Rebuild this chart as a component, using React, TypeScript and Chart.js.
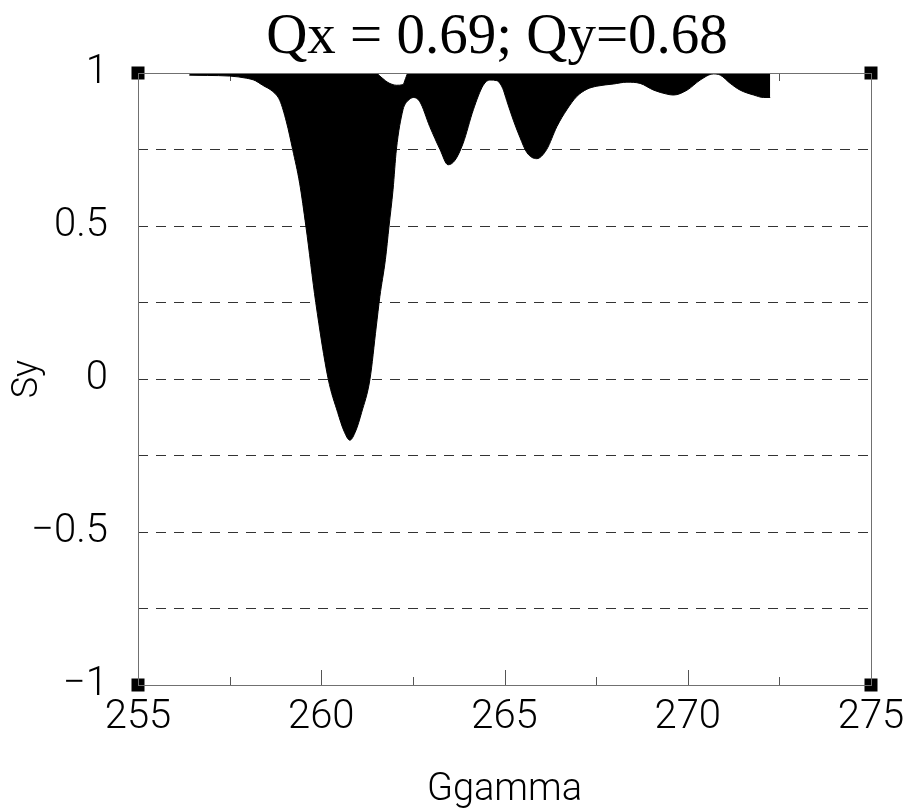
import React, { useEffect, useRef } from "react";
import { Chart, registerables } from "chart.js";

Chart.register(...registerables);

const TITLE = "Qx = 0.69; Qy=0.68";
const X_LABEL = "Ggamma";
const Y_LABEL = "Sy";

const X_MIN = 255;
const X_MAX = 275;
const X_STEP = 5;
const Y_MIN = -1;
const Y_MAX = 1;
const Y_STEP = 0.25;
const Y_LABELLED = [1, 0.5, 0, -0.5, -1];

const ggamma = [
  256.4, 256.9, 257.5, 257.96, 258.2, 258.4, 258.67, 258.87, 259.05, 259.22,
  259.41, 259.58, 259.85, 260.19, 260.45, 260.62, 260.78, 260.94, 261.1, 261.33,
  261.5, 261.6, 261.75, 261.85, 261.96, 262.05, 262.23, 262.3, 262.37, 262.51, 262.69,
  262.96, 263.24, 263.46, 263.65, 263.87, 264.15, 264.42, 264.6, 264.79, 264.95,
  265.06, 265.24, 265.42, 265.61, 265.88, 266.15, 266.43, 266.7, 266.97, 267.25,
  267.52, 267.97, 268.34, 268.7, 269.07, 269.43, 269.61, 269.98, 270.34, 270.7,
  270.89, 271.16, 271.43, 271.8, 272.07, 272.25,
];

const syLower = [
  0.993, 0.992, 0.99, 0.983, 0.975, 0.96, 0.94, 0.91, 0.84, 0.75,
  0.64, 0.5, 0.25, 0.0, -0.11, -0.17, -0.2, -0.17, -0.11, 0.0,
  0.17, 0.27, 0.39, 0.5, 0.62, 0.75, 0.88, 0.9, 0.91, 0.92, 0.906,
  0.825, 0.75, 0.7, 0.715, 0.77, 0.88, 0.96, 0.977, 0.975, 0.95,
  0.91, 0.846, 0.79, 0.74, 0.72, 0.75, 0.825, 0.88, 0.923, 0.947,
  0.957, 0.964, 0.97, 0.966, 0.944, 0.931, 0.928, 0.944, 0.977, 0.997,
  0.993, 0.966, 0.944, 0.928, 0.92, 0.92,
];

const syUpper = [
  1, 1, 1, 1, 1, 1, 1, 1, 1, 1,
  1, 1, 1, 1, 1, 1, 1, 1, 1, 1,
  1, 0.99, 0.975, 0.967, 0.962, 0.96, 0.962, 0.982, 1, 1, 1,
  1, 1, 1, 1, 1, 1, 1, 1, 1, 1,
  1, 1, 1, 1, 1, 1, 1, 1, 1, 1,
  1, 1, 1, 1, 1, 1, 1, 1, 1, 1,
  1, 1, 1, 1, 1, 1,
];

const cornerX = [X_MIN, X_MAX, X_MIN, X_MAX];
const cornerY = [Y_MAX, Y_MAX, Y_MIN, Y_MIN];

const SANS = "Roboto, 'DejaVu Sans', sans-serif";
const TICK_FONT = { family: SANS, size: 40, weight: "300" as any };

const plotTitle = {
  id: "plotTitle",
  afterDraw(chart: any) {
    const ctx = chart.ctx;
    ctx.save();
    ctx.fillStyle = "#000";
    ctx.font = "57px 'Liberation Serif', 'Times New Roman', serif";
    ctx.textAlign = "center";
    ctx.textBaseline = "alphabetic";
    ctx.fillText(TITLE, 497, 53);
    ctx.restore();
  },
};

const inwardTicks = {
  id: "inwardTicks",
  beforeDatasetsDraw(chart: any) {
    const xs = chart.scales.x;
    const { top, bottom } = chart.chartArea;
    const ctx = chart.ctx;
    const vals = xs.ticks.map((t: any) => t.value);
    ctx.save();
    ctx.strokeStyle = "#555";
    ctx.lineWidth = 1;
    const b = Math.round(bottom);
    const t = Math.round(top);
    const draw = (v: number, len: number) => {
      const px = Math.round(xs.getPixelForValue(v)) + 0.5;
      ctx.beginPath();
      ctx.moveTo(px, b);
      ctx.lineTo(px, b - len);
      ctx.moveTo(px, t);
      ctx.lineTo(px, t + len);
      ctx.stroke();
    };
    for (let i = 0; i < vals.length; i++) {
      if (i > 0 && i < vals.length - 1) draw(vals[i], 15);
      if (i > 0) draw((vals[i - 1] + vals[i]) / 2, 8);
    }
    ctx.restore();
  },
};

const frameBox = {
  id: "frameBox",
  afterDatasetsDraw(chart: any) {
    const { left, top, right, bottom } = chart.chartArea;
    const ctx = chart.ctx;
    ctx.save();
    ctx.strokeStyle = "#707070";
    ctx.lineWidth = 1;
    const l = Math.round(left) + 0.5;
    const t = Math.round(top) + 0.5;
    ctx.strokeRect(l, t, Math.round(right) - Math.round(left), Math.round(bottom) - Math.round(top));
    ctx.restore();
  },
};

function fmtY(v: number): string {
  if (!Y_LABELLED.some((l) => Math.abs(l - v) < 1e-9)) return "";
  const s = String(Math.abs(v));
  return v < 0 ? "\u2212" + s : s;
}

export default function App() {
  const ref = useRef<HTMLCanvasElement>(null);

  useEffect(() => {
    if (!ref.current) return;
    const chart = new Chart(ref.current, {
      type: "line",
      data: {
        datasets: [
          {
            label: "upper",
            data: ggamma.map((x, i) => ({ x, y: syUpper[i] })),
            borderColor: "#000",
            borderWidth: 1,
            pointRadius: 0,
            fill: false,
            cubicInterpolationMode: "monotone",
          },
          {
            label: "lower",
            data: ggamma.map((x, i) => ({ x, y: syLower[i] })),
            borderColor: "#000",
            backgroundColor: "#000",
            borderWidth: 1,
            pointRadius: 0,
            fill: "-1",
            cubicInterpolationMode: "monotone",
          },
          {
            type: "scatter",
            label: "corners",
            data: cornerX.map((x, i) => ({ x, y: cornerY[i] })),
            pointStyle: "rect",
            pointRadius: 9.2,
            backgroundColor: "#000",
            borderColor: "#000",
            borderWidth: 0,
            clip: false,
          } as any,
        ],
      },
      options: {
        animation: false,
        responsive: false,
        events: [],
        layout: { padding: { left: 0, right: 34, top: 73, bottom: 0 } },
        plugins: {
          legend: { display: false },
          tooltip: { enabled: false },
          title: { display: false },
        },
        scales: {
          x: {
            type: "linear",
            min: X_MIN,
            max: X_MAX,
            ticks: { stepSize: X_STEP, color: "#000", font: TICK_FONT, padding: 9, maxRotation: 0 },
            grid: { display: false, drawTicks: false },
            border: { display: false },
            title: {
              display: true,
              text: X_LABEL,
              color: "#000",
              font: { family: SANS, size: 38, weight: "300" as any, lineHeight: 1 },
              padding: { top: 0, bottom: 2 },
            },
            afterFit(scale: any) {
              scale.height = 126;
              scale.paddingLeft = 0;
              scale.paddingRight = 0;
            },
          },
          y: {
            type: "linear",
            min: Y_MIN,
            max: Y_MAX,
            ticks: {
              stepSize: Y_STEP,
              color: "#000",
              font: TICK_FONT,
              padding: 30,
              autoSkip: false,
              callback: (v: any) => fmtY(Number(v)),
            },
            grid: {
              drawTicks: false,
              lineWidth: 1,
              color: (c: any) =>
                c.tick && Math.abs(Math.abs(c.tick.value) - 1) < 1e-9 ? "rgba(0,0,0,0)" : "#333",
            },
            border: { display: false, dash: [10, 8] },
            title: {
              display: true,
              text: Y_LABEL,
              color: "#000",
              font: { family: SANS, size: 36, weight: "300" as any, lineHeight: 1 },
              padding: { top: 10, bottom: 0 },
            },
            afterFit(scale: any) {
              scale.width = 138;
              scale.paddingTop = 0;
              scale.paddingBottom = 0;
            },
          },
        },
      },
      plugins: [inwardTicks, frameBox, plotTitle],
    } as any);
    return () => chart.destroy();
  }, []);

  return (
    <div style={{ position: "absolute", left: 0, top: 0, width: 905, height: 811, background: "#fff" }}>
      <canvas ref={ref} width={905} height={811} style={{ display: "block" }} />
    </div>
  );
}
